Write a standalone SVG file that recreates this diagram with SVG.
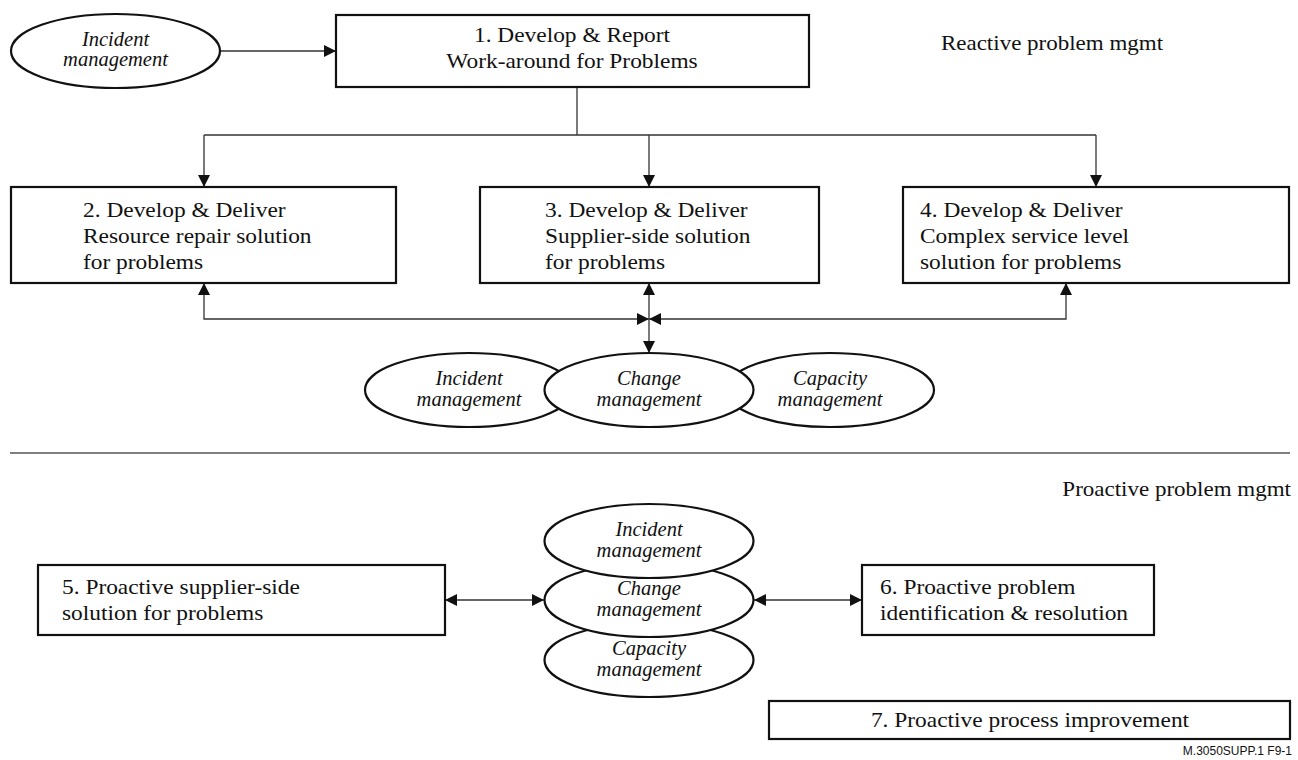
<svg xmlns="http://www.w3.org/2000/svg" width="1298" height="760" viewBox="0 0 1298 760">
  <style>
    .box { fill: #fff; stroke: #111; stroke-width: 2.2; }
    .oval { fill: #fff; stroke: #111; stroke-width: 2.2; }
    .wire { fill: none; stroke: #333; stroke-width: 1.3; }
    .sep { stroke: #555; stroke-width: 1.6; }
    .t { font-family: "Liberation Serif", "Times New Roman", serif; font-size: 20px; fill: #111; }
    .it { font-family: "Liberation Serif", "Times New Roman", serif; font-size: 20.5px; font-style: italic; fill: #111; text-anchor: middle; }
    .mid { text-anchor: middle; }
    .end { text-anchor: end; }
    .tag { font-family: "Liberation Sans", Arial, sans-serif; font-size: 12px; fill: #111; text-anchor: end; }
  </style>
  <defs>
    <marker id="arrow" viewBox="0 0 12 12" refX="12" refY="6" markerWidth="12" markerHeight="12" markerUnits="userSpaceOnUse" orient="auto-start-reverse">
      <path d="M0,0 L12,6 L0,12 z" fill="#111"/>
    </marker>
  </defs>

  <rect width="1298" height="760" fill="#fff"/>

  <!-- connectors -->
  <g id="connectors">
    <line class="wire" x1="220" y1="51" x2="336" y2="51" marker-end="url(#arrow)"/>
    <line class="wire" x1="577" y1="87" x2="577" y2="135"/>
    <line class="wire" x1="204" y1="135" x2="1096" y2="135"/>
    <line class="wire" x1="204" y1="135" x2="204" y2="187" marker-end="url(#arrow)"/>
    <line class="wire" x1="649" y1="135" x2="649" y2="187" marker-end="url(#arrow)"/>
    <line class="wire" x1="1096" y1="135" x2="1096" y2="187" marker-end="url(#arrow)"/>
    <path class="wire" d="M649,319 H204 V283" marker-start="url(#arrow)" marker-end="url(#arrow)"/>
    <path class="wire" d="M649,319 H1066 V283" marker-start="url(#arrow)" marker-end="url(#arrow)"/>
    <path class="wire" d="M649,283 V353" marker-start="url(#arrow)" marker-end="url(#arrow)"/>
    <path class="wire" d="M445,600 H544" marker-start="url(#arrow)" marker-end="url(#arrow)"/>
    <path class="wire" d="M754,600 H862" marker-start="url(#arrow)" marker-end="url(#arrow)"/>
  </g>

  <!-- section divider and section titles -->
  <g id="sections">
    <line class="sep" x1="10" y1="453" x2="1290" y2="453"/>
    <text class="t mid" transform="translate(1052 50) scale(1.15 1)">Reactive problem mgmt</text>
    <text class="t end" transform="translate(1291 496) scale(1.15 1)">Proactive problem mgmt</text>
  </g>

  <!-- reactive part -->
  <g id="incident-top">
    <ellipse class="oval" cx="115.5" cy="51" rx="104.5" ry="37"/>
    <text class="it" x="115.5" y="46">Incident</text>
    <text class="it" x="115.5" y="66">management</text>
  </g>

  <g id="box1">
    <rect class="box" x="336" y="15" width="473" height="72"/>
    <text class="t mid" transform="translate(572 42) scale(1.17 1)">1. Develop &amp; Report<tspan x="0" dy="26">Work-around for Problems</tspan></text>
  </g>

  <g id="box2">
    <rect class="box" x="11" y="187" width="385" height="96"/>
    <text class="t" transform="translate(83 217) scale(1.17 1)">2. Develop &amp; Deliver<tspan x="0" dy="26">Resource repair solution</tspan><tspan x="0" dy="26">for problems</tspan></text>
  </g>

  <g id="box3">
    <rect class="box" x="480" y="187" width="339" height="96"/>
    <text class="t" transform="translate(545 217) scale(1.17 1)">3. Develop &amp; Deliver<tspan x="0" dy="26">Supplier-side solution</tspan><tspan x="0" dy="26">for problems</tspan></text>
  </g>

  <g id="box4">
    <rect class="box" x="903" y="187" width="386" height="96"/>
    <text class="t" transform="translate(920 217) scale(1.17 1)">4. Develop &amp; Deliver<tspan x="0" dy="26">Complex service level</tspan><tspan x="0" dy="26">solution for problems</tspan></text>
  </g>

  <g id="incident-mid">
    <ellipse class="oval" cx="469" cy="390" rx="104" ry="37"/>
    <text class="it" x="469" y="385">Incident</text>
    <text class="it" x="469" y="406">management</text>
  </g>

  <g id="capacity-mid">
    <ellipse class="oval" cx="830" cy="390" rx="104" ry="37"/>
    <text class="it" x="830" y="385">Capacity</text>
    <text class="it" x="830" y="406">management</text>
  </g>

  <g id="change-mid">
    <ellipse class="oval" cx="649" cy="390" rx="104.5" ry="37"/>
    <text class="it" x="649" y="385">Change</text>
    <text class="it" x="649" y="406">management</text>
  </g>

  <!-- proactive part -->
  <g id="box5">
    <rect class="box" x="38" y="565" width="407" height="70"/>
    <text class="t" transform="translate(62 594) scale(1.17 1)">5. Proactive supplier-side<tspan x="0" dy="26">solution for problems</tspan></text>
  </g>

  <g id="box6">
    <rect class="box" x="862" y="565" width="292" height="70"/>
    <text class="t" transform="translate(880 594) scale(1.17 1)">6. Proactive problem<tspan x="0" dy="26">identification &amp; resolution</tspan></text>
  </g>

  <g id="capacity-low">
    <ellipse class="oval" cx="649" cy="660" rx="104.5" ry="37"/>
    <text class="it" x="649" y="655">Capacity</text>
    <text class="it" x="649" y="676">management</text>
  </g>

  <g id="change-low">
    <ellipse class="oval" cx="649" cy="600" rx="104.5" ry="37"/>
    <text class="it" x="649" y="595">Change</text>
    <text class="it" x="649" y="616">management</text>
  </g>

  <g id="incident-low">
    <ellipse class="oval" cx="649" cy="541" rx="104.5" ry="37"/>
    <text class="it" x="649" y="536">Incident</text>
    <text class="it" x="649" y="557">management</text>
  </g>

  <g id="box7">
    <rect class="box" x="769" y="701" width="521" height="38"/>
    <text class="t mid" transform="translate(1030 727) scale(1.17 1)">7. Proactive process improvement</text>
  </g>

  <text class="tag" x="1292" y="755">M.3050SUPP.1  F9-1</text>
</svg>
